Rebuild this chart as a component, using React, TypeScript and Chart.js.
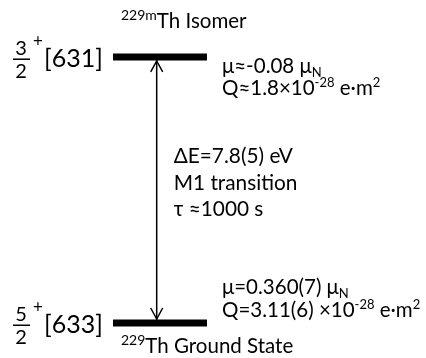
import { useEffect, useRef } from "react";
import { Chart, registerables } from "chart.js";

Chart.register(...registerables);

// ---- data ----
const levelEnergies = [0, 7.8]; // eV : ground state, isomer
const massNumbers = ["229", "229m"];
const levelNames = ["Th Ground State", "Th Isomer"];
const spinNumerators = ["5", "3"];
const spinDenominators = ["2", "2"];
const parities = ["+", "+"];
const nilssonLabels = ["[633]", "[631]"];
const magneticMoments = ["=0.360(7)", "≈-0.08"];
const quadrupoleMoments = ["=3.11(6) ×10", "≈1.8×10"];
const quadrupoleExponent = "-28";
const transitionLines = ["ΔE=7.8(5) eV", "M1 transition", "τ ≈1000 s"];
const levelSpan = [0, 1]; // horizontal extent of level bars (arb. units)
const arrowPosition = 0.465;

const FONT = "Lato, 'Open Sans', sans-serif";

type Run = [string, number, number];

function drawRuns(ctx: CanvasRenderingContext2D, x: number, y: number, runs: Run[]) {
  let cx = x;
  for (const [t, size, dy] of runs) {
    ctx.font = `${size}px ${FONT}`;
    ctx.fillText(t, cx, y + dy);
    cx += ctx.measureText(t).width;
  }
  return cx;
}

const annotationPlugin = {
  id: "levelAnnotations",
  afterDatasetsDraw(chart: any) {
    const ctx: CanvasRenderingContext2D = chart.ctx;
    const xs = chart.scales.x;
    const ys = chart.scales.y;
    const right = xs.getPixelForValue(levelSpan[1]);
    const ax = xs.getPixelForValue(arrowPosition);
    const yG = ys.getPixelForValue(levelEnergies[0]);
    const yI = ys.getPixelForValue(levelEnergies[1]);
    ctx.save();
    ctx.fillStyle = "#000";
    ctx.strokeStyle = "#000";
    ctx.textBaseline = "alphabetic";
    ctx.textAlign = "left";

    // arrow heads (open chevrons)
    ctx.lineWidth = 1.5;
    const half = 3.5;
    const tipTop = yI + half + 0.5;
    const tipBot = yG - half - 0.5;
    ctx.beginPath();
    ctx.moveTo(ax - 6, tipTop + 11);
    ctx.lineTo(ax, tipTop);
    ctx.lineTo(ax + 6, tipTop + 11);
    ctx.moveTo(ax - 6, tipBot - 11);
    ctx.lineTo(ax, tipBot);
    ctx.lineTo(ax + 6, tipBot - 11);
    ctx.stroke();

    // per level labels
    levelEnergies.forEach((_, i) => {
      const y = i === 0 ? yG : yI;
      // spin fraction
      ctx.font = `20px ${FONT}`;
      ctx.textAlign = "center";
      ctx.fillText(spinNumerators[i], 21, y - 2);
      ctx.fillText(spinDenominators[i], 21, y + 21);
      ctx.fillRect(13, y + 1.5, 17, 1.5);
      ctx.font = `17px ${FONT}`;
      ctx.fillText(parities[i], 38, y - 10);
      ctx.textAlign = "left";
      ctx.font = `25px ${FONT}`;
      ctx.fillText(nilssonLabels[i], 44, y + 10);

      // level name
      const ny = i === 0 ? y + 30 : y - 29;
      drawRuns(ctx, 121, ny, [
        [massNumbers[i], 14, -8],
        [levelNames[i], 20.5, 0],
      ]);

      // moments
      const mx = right + 15;
      const my = i === 0 ? y - 29 : y + 16;
      drawRuns(ctx, mx, my, [
        ["μ" + magneticMoments[i] + " μ", 20.5, 0],
        ["N", 13, 4],
      ]);
      drawRuns(ctx, mx, my + 22.5, [
        ["Q" + quadrupoleMoments[i], 20.5, 0],
        [quadrupoleExponent, 13, -8],
        [" e·m", 20.5, 0],
        ["2", 13, -8],
      ]);
    });

    // transition text
    const mid = (yG + yI) / 2;
    ctx.font = `20.8px ${FONT}`;
    transitionLines.forEach((t, k) => {
      ctx.fillText(t, ax + 17, mid + (k - 1) * 26.5);
    });
    ctx.restore();
  },
};

export default function App() {
  const ref = useRef<HTMLCanvasElement | null>(null);
  useEffect(() => {
    document.body.style.margin = "0";
    const canvas = ref.current!;
    const chart = new Chart(canvas, {
      type: "line",
      data: {
        datasets: [
          ...levelEnergies.map((e) => ({
            data: levelSpan.map((x) => ({ x, y: e })),
            borderColor: "#000",
            borderWidth: 7,
            borderCapStyle: "butt" as const,
            pointRadius: 0,
          })),
          {
            data: levelEnergies.map((e) => ({ x: arrowPosition, y: e })),
            borderColor: "#000",
            borderWidth: 1.5,
            pointRadius: 0,
          },
        ],
      },
      options: {
        animation: false,
        responsive: false,
        maintainAspectRatio: false,
        layout: { padding: 0 },
        scales: {
          x: { type: "linear", min: -1.202, max: 3.33, display: false },
          y: { type: "linear", min: -1.026, max: 9.47, display: false },
        },
        plugins: { legend: { display: false }, tooltip: { enabled: false } },
      },
      plugins: [annotationPlugin],
    });
    return () => chart.destroy();
  }, []);
  return (
    <div style={{ width: 426, height: 358, background: "#fff" }}>
      <canvas ref={ref} width={426} height={358} />
    </div>
  );
}
